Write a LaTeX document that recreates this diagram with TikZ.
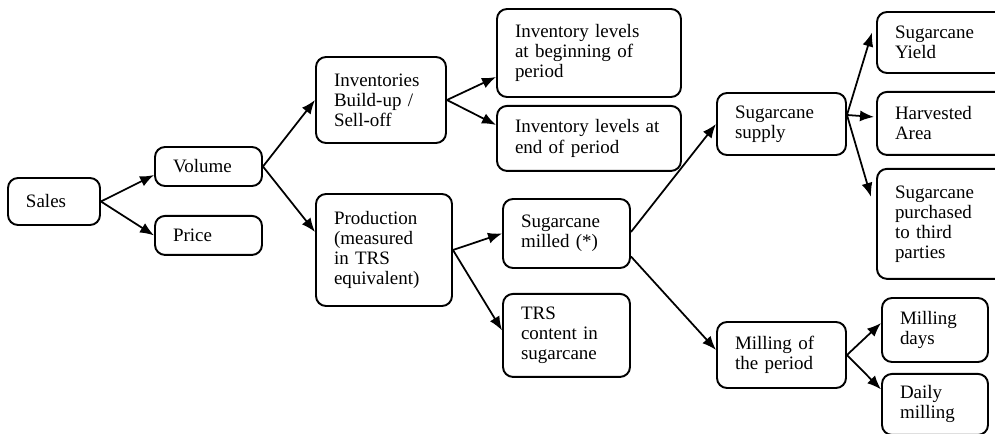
\documentclass[tikz,border=0pt]{standalone}
\usepackage{fontspec}
\setmainfont{Liberation Serif}
\usepackage{tikz}
\usetikzlibrary{positioning,arrows.meta,calc}

\begin{document}
\begin{tikzpicture}[x=0.2mm, y=-0.2mm,
  blk/.style={draw, rounded corners=2mm, line width=1.1pt, inner xsep=3.6mm, inner ysep=1mm,
    align=left, font=\fontsize{10.8}{11.4}\selectfont},
  arr/.style={-{Latex[length=2.8mm,width=2.2mm]}, line width=1pt}]
\useasboundingbox (0,0) rectangle (995,434);
\clip (0,0) rectangle (995,434);
% left: sales split
\node[blk, text width=11.2mm, minimum height=9.4mm] (sales) at (54,201.5) {Sales};
\node[blk, text width=14.2mm, minimum height=7.8mm] (volume) at (208.5,166.5) {Volume};
\node[blk, text width=14.2mm, minimum height=7.8mm, below=5.6mm of volume] (price) {Price};
\draw[arr] (sales.east) -- ([yshift=-1.7mm]volume.west);
\draw[arr] (sales.east) -- (price.west);
% middle: volume drivers
\node[blk, text width=18.8mm, minimum height=17.2mm] (inv) at (381,100) {Inventories\\Build-up /\\Sell-off};
\node[blk, text width=20mm, minimum height=22.4mm] (prod) at (384,250) {Production\\(measured\\in TRS\\equivalent)};
\draw[arr] (volume.east) -- (inv.west);
\draw[arr] (volume.east) -- ([yshift=3.6mm]prod.west);
\node[blk, text width=29.6mm, minimum height=17.6mm] (invbeg) at (589,53) {Inventory levels\\at beginning of\\period};
\node[blk, text width=29.6mm, minimum height=13mm, below=1.4mm of invbeg] (invend) {Inventory levels at\\end of period};
\draw[arr] (inv.east) -- ([yshift=-4.8mm]invbeg.west);
\draw[arr] (inv.east) -- ([yshift=2.7mm]invend.west);
\node[blk, text width=18.2mm, minimum height=13.8mm] (milled) at (566.5,233.5) {Sugarcane\\milled (*)};
\node[blk, text width=18.2mm, minimum height=16.6mm, below=4.8mm of milled] (trs) {TRS\\content in\\sugarcane};
\draw[arr] (prod.east) -- (milled.west);
\draw[arr] (prod.east) -- ([yshift=1mm]trs.west);
% right: sugarcane milled drivers
\node[blk, text width=18.6mm, minimum height=12.4mm] (supply) at (781.5,124) {Sugarcane\\supply};
\node[blk, text width=18.6mm, minimum height=13.2mm] (milling) at (781.5,355) {Milling of\\the period};
\draw[arr] ([yshift=0.3mm]milled.east) -- (supply.west);
\draw[arr] ([yshift=-4.6mm]milled.east) -- ([yshift=1mm]milling.west);
\node[blk, text width=19.8mm, minimum height=12.2mm] (yield) at (944.5,42.5) {Sugarcane\\Yield};
\node[blk, text width=19.8mm, minimum height=12.6mm, below=3.4mm of yield] (harv) {Harvested\\Area};
\node[blk, text width=19.8mm, minimum height=22mm, below=2.4mm of harv] (purch) {Sugarcane\\purchased\\to third\\parties};
\coordinate (sfork) at ([yshift=1.8mm]supply.east);
\draw[arr] (sfork) -- ([yshift=2mm,xshift=-0.8mm]yield.west);
\draw[arr] (sfork) -- ([yshift=1.3mm,xshift=-0.4mm]harv.west);
\draw[arr] (sfork) -- ([yshift=5.4mm,xshift=-1mm]purch.west);
\node[blk, text width=14mm, minimum height=12.8mm] (days) at (935,330) {Milling\\days};
\node[blk, text width=14mm, minimum height=12.2mm, below=2mm of days] (daily) {Daily\\milling};
\draw[arr] (milling.east) -- ([yshift=1.4mm]days.west);
\draw[arr] (milling.east) -- ([yshift=3mm]daily.west);
\end{tikzpicture}
\end{document}
